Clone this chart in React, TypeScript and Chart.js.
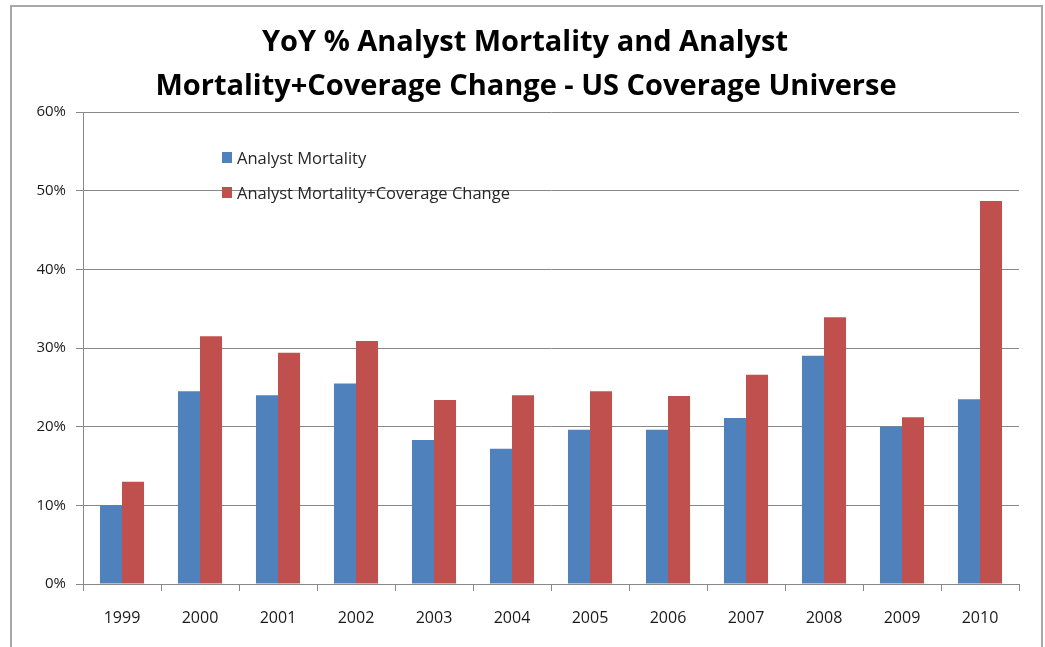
import React, { useEffect, useRef } from "react";
import { Chart, registerables } from "chart.js";

Chart.register(...registerables);

const categories = ["1999", "2000", "2001", "2002", "2003", "2004", "2005", "2006", "2007", "2008", "2009", "2010"];
const mortality = [10.0, 24.5, 24.0, 25.5, 18.3, 17.2, 19.6, 19.6, 21.1, 29.0, 20.0, 23.5];
const mortalityCoverage = [13.0, 31.5, 29.4, 30.9, 23.4, 24.0, 24.5, 23.9, 26.6, 33.9, 21.2, 48.7];
const yMin = 0;
const yMax = 60;
const yStep = 10;
const titleLines = ["YoY % Analyst Mortality and Analyst", "Mortality+Coverage Change - US Coverage Universe"];
const seriesNames = ["Analyst Mortality", "Analyst Mortality+Coverage Change"];
const seriesColors = ["#4F81BD", "#C0504D"];

const FONT = "'Open Sans', 'Noto Sans', sans-serif";

const overlayPlugin = {
  id: "overlay",
  afterDraw(chart: any) {
    const ctx = chart.ctx as CanvasRenderingContext2D;
    const { left, top } = chart.chartArea;
    ctx.save();
    // Title
    ctx.fillStyle = "#000";
    ctx.font = `bold 29px ${FONT}`;
    ctx.textAlign = "center";
    ctx.textBaseline = "alphabetic";
    ctx.fillText(titleLines[0], 525, 51);
    ctx.fillText(titleLines[1], 526, 95);
    // Legend
    ctx.font = `16.5px ${FONT}`;
    chart.data.datasets.forEach((ds: any, i: number) => {
      const y = top + 46 + i * 35;
      ctx.fillStyle = ds.backgroundColor;
      ctx.fillRect(left + 139, y - 6, 10, 11);
      ctx.fillStyle = "#262626";
      ctx.textAlign = "left";
      ctx.textBaseline = "middle";
      ctx.fillText(ds.label, left + 154, y + 1);
    });
    ctx.restore();
  },
};

export default function App() {
  const canvasRef = useRef<HTMLCanvasElement | null>(null);

  useEffect(() => {
    const canvas = canvasRef.current;
    if (!canvas) return;
    const chart = new Chart(canvas, {
      type: "bar",
      data: {
        labels: categories,
        datasets: [
          {
            label: seriesNames[0],
            data: mortality,
            backgroundColor: seriesColors[0],
            categoryPercentage: 0.565,
            barPercentage: 1.0,
          },
          {
            label: seriesNames[1],
            data: mortalityCoverage,
            backgroundColor: seriesColors[1],
            categoryPercentage: 0.565,
            barPercentage: 1.0,
          },
        ],
      },
      options: {
        animation: false,
        responsive: false,
        devicePixelRatio: 1,
        layout: { padding: { top: 112, right: 26, left: 0, bottom: 0 } },
        plugins: {
          legend: { display: false },
          title: { display: false },
          tooltip: { enabled: false },
        },
        scales: {
          x: {
            offset: true,
            grid: {
              offset: true,
              drawOnChartArea: false,
              drawTicks: true,
              tickLength: 7,
              color: "#888888",
            },
            border: { color: "#888888", width: 1 },
            ticks: {
              color: "#1a1a1a",
              font: { family: FONT, size: 16 },
              padding: 18,
              maxRotation: 0,
            },
            afterFit(scale: any) {
              scale.height = 63;
            },
          },
          y: {
            min: yMin,
            max: yMax,
            ticks: {
              stepSize: yStep,
              color: "#1a1a1a",
              font: { family: FONT, size: 15 },
              padding: 10,
              callback: (v: any) => `${v}%`,
            },
            grid: {
              color: "#888888",
              tickLength: 7,
              drawTicks: true,
            },
            border: { color: "#888888", width: 1 },
            afterFit(scale: any) {
              scale.width = 83;
            },
          },
        },
      },
      plugins: [overlayPlugin],
    });
    return () => chart.destroy();
  }, []);

  return (
    <div
      style={{
        position: "fixed",
        left: 0,
        top: 0,
        width: 1045,
        height: 647,
        overflow: "hidden",
        background: "#fff",
      }}
    >
      <div
        style={{
          position: "absolute",
          left: 10,
          top: 5,
          width: 1029,
          height: 700,
          border: "2px solid #a8a8a8",
          borderBottom: "none",
        }}
      />
      <canvas
        ref={canvasRef}
        width={1045}
        height={647}
        style={{ position: "absolute", left: 0, top: 0, width: 1045, height: 647 }}
      />
    </div>
  );
}
